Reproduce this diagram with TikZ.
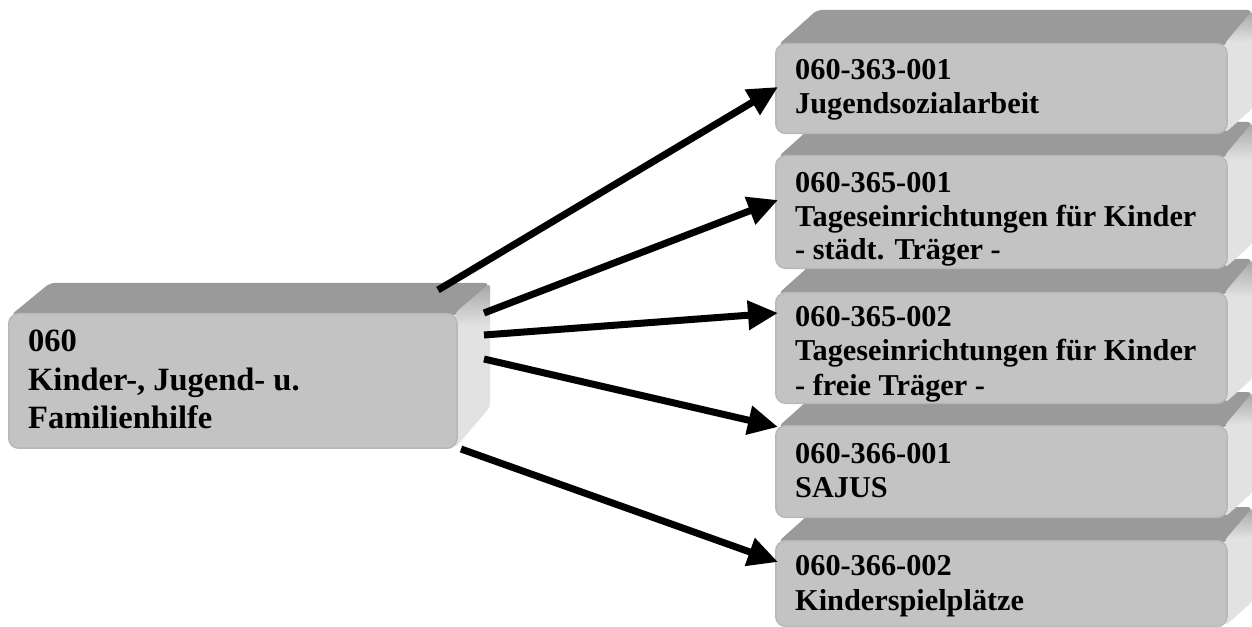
\documentclass[tikz,border=0pt]{standalone}
\usepackage{fontspec}
\setmainfont{Liberation Serif}
\usetikzlibrary{arrows.meta}
\definecolor{frontc}{HTML}{C3C3C3}
\definecolor{topc}{HTML}{9A9A9A}
\definecolor{sidec}{HTML}{E2E2E2}
\definecolor{edgec}{HTML}{B8B8B8}
\pgfdeclareverticalshading{sideshade}{100bp}{color(0bp)=(sidec); color(25bp)=(sidec); color(62bp)=(sidec); color(75bp)=(topc!85!sidec); color(100bp)=(topc!85!sidec)}
\tikzset{
  topface/.style={fill=topc, draw=none, rounded corners=5bp},
  sideface/.style={shading=sideshade, draw=none, rounded corners=4bp},
  frontface/.style={fill=frontc, draw=edgec, line width=1.5bp, rounded corners=10bp},
  lbl/.style={anchor=base west, inner sep=0pt, font=\fontsize{30.3bp}{34bp}\selectfont\bfseries},
  lbig/.style={lbl, font=\fontsize{32.5bp}{38bp}\selectfont\bfseries},
  conn/.style={line width=7bp, -{Triangle[length=30bp,width=28bp]}, shorten >=0pt}
}
% #1 name, #2 x1, #3 y1, #4 x2, #5 y2, #6 dxl, #7 dxr, #8 dyt, #9 dyb
\newcommand\mycube[9]{%
  \fill[topface] (#2+3,#3+2) -- (#2+#6,#3-#8) -- (#4+#7,#3-#8) -- (#4,#3+2) -- cycle;
  \shade[sideface] (#4-3,#3) -- (#4+#7,#3-#8) -- (#4+#7,#5-#9) -- (#4-3,#5) -- cycle;
  \node[frontface, anchor=north west, minimum width=#4-#2, minimum height=#5-#3, inner sep=0pt] (#1) at (#2,#3) {};
}
\begin{document}
\begin{tikzpicture}[x=1bp,y=-1bp]
\useasboundingbox (0,0) rectangle (1252,627);
\fill[white] (0,0) rectangle (1252,627);

% right boxes, drawn from bottom to top so that upper boxes lie in front
\mycube{b5}{775}{540}{1228}{626}{42}{25}{33}{25}
\node[lbl] (b5a) at (795,575) {060-366-002};
\node[lbl] (b5b) at (795,610) {Kinderspielplätze};

\mycube{b4}{775}{425}{1228}{517}{42}{25}{33}{25}
\node[lbl] (b4a) at (795,463) {060-366-001};
\node[lbl] (b4b) at (795,497) {SAJUS};

\mycube{b3}{775}{292}{1228}{403}{42}{25}{33}{25}
\node[lbl] (b3a) at (795,327) {060-365-002};
\node[lbl] (b3b) at (795,361) {Tageseinrichtungen für Kinder};
\node[lbl] (b3c) at (795,395) {- freie Träger -};

\mycube{b2}{775}{155}{1228}{268}{42}{25}{33}{25}
\node[lbl] (b2a) at (795,193) {060-365-001};
\node[lbl] (b2b) at (795,227) {Tageseinrichtungen für Kinder};
\node[lbl] (b2c) at (795,260) {- städt. Träger -};

\mycube{b1}{775}{43}{1228}{133}{42}{25}{33}{25}
\node[lbl] (b1a) at (795,80) {060-363-001};
\node[lbl] (b1b) at (795,114) {Jugendsozialarbeit};

% left box
\mycube{m}{8}{313}{458}{448}{42}{32}{30}{41}
\node[lbig] (m1) at (28,352) {060};
\node[lbig] (m2) at (28,390) {Kinder-, Jugend- u.};
\node[lbig] (m3) at (28,428) {Familienhilfe};

% connector end points
\coordinate (s1) at (438,290);
\coordinate (s2) at (484,313);
\coordinate (s3) at (484,335);
\coordinate (s4) at (484,359);
\coordinate (s5) at (461,449);
\coordinate (t1) at (778,87);
\coordinate (t2) at (778,200);
\coordinate (t3) at (778,313);
\coordinate (t4) at (778,427);
\coordinate (t5) at (778,562);

\draw[conn] (s1) -- (t1);
\draw[conn] (s2) -- (t2);
\draw[conn] (s3) -- (t3);
\draw[conn] (s4) -- (t4);
\draw[conn] (s5) -- (t5);
\end{tikzpicture}
\end{document}
